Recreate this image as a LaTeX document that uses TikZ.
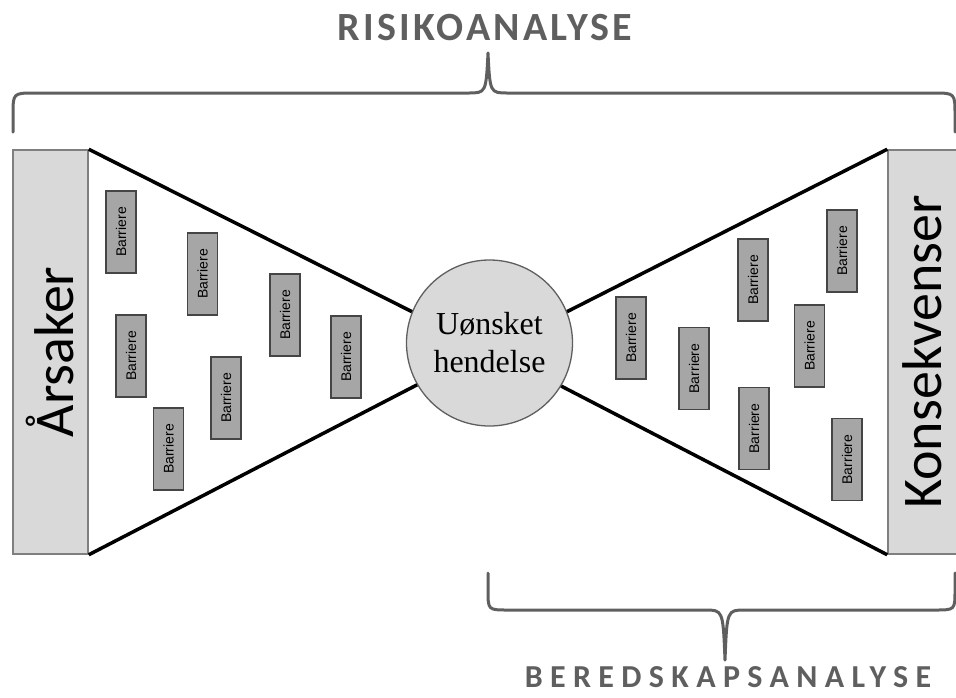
\documentclass[tikz,border=0pt]{standalone}
\usepackage{fontspec}
\setmainfont{Liberation Serif}
\newfontfamily\sidefont{Carlito}
\newfontfamily\topheadfont{Carlito}[LetterSpace=8]
\newfontfamily\botheadfont{Carlito}[LetterSpace=23]
\newfontfamily\boxfont{Liberation Sans}

\definecolor{barfill}{HTML}{D9D9D9}
\definecolor{barline}{HTML}{7F7F7F}
\definecolor{boxfill}{HTML}{A6A6A6}
\definecolor{boxline}{HTML}{454545}
\definecolor{bracegray}{HTML}{5F5F5F}

\tikzset{
  sidebar/.style={draw=barline, fill=barfill, line width=1.5pt, inner sep=0pt,
    minimum width=75pt, minimum height=404pt},
  sidelabel/.style={inner sep=0pt, rotate=90,
    font=\sidefont\fontsize{56}{60}\selectfont},
  barrier/.style={draw=boxline, fill=boxfill, line width=1.3pt, inner sep=0pt,
    minimum width=30pt, minimum height=82pt,
    font=\boxfont\fontsize{14}{16}\selectfont},
  event/.style={circle, draw=bracegray, fill=barfill, line width=1.3pt, inner sep=0pt,
    minimum size=166pt, align=center,
    font=\fontsize{32}{38}\selectfont},
  tie/.style={line width=3.5pt, black},
  bracket/.style={draw=bracegray, line width=3pt, line cap=round, line join=round},
  heading/.style={text=bracegray, inner sep=0pt}
}

\begin{document}
\begin{tikzpicture}[x=1pt, y=-1pt]
  \useasboundingbox (0,0) rectangle (956,697);
  \clip (0,0) rectangle (956,697);

  % causes and consequences
  \node[sidebar] (cause) at (50.5,352) {};
  \node[sidelabel] (causelabel) at (cause.center) {Årsaker};
  \node[sidebar] (conseq) at (925.5,352) {};
  \node[sidelabel] (conseqlabel) at (922,352) {Konsekvenser};

  % the top event
  \node[event] (ev) at (489.5,343) {Uønsket\\hendelse};

  % bow-tie edges
  \draw[tie] (cause.north east) -- (ev.158);
  \draw[tie] (cause.south east) -- (ev.210);
  \draw[tie] (conseq.north west) -- (ev.22);
  \draw[tie] (conseq.south west) -- (ev.-31);

  % barriers on the cause side
  \node[barrier] (b1) at (121,232)   {\rotatebox{90}{Barriere}};
  \node[barrier] (b2) at (202.5,274) {\rotatebox{90}{Barriere}};
  \node[barrier] (b3) at (285,315)   {\rotatebox{90}{Barriere}};
  \node[barrier] (b4) at (131,356)   {\rotatebox{90}{Barriere}};
  \node[barrier] (b5) at (226,398)   {\rotatebox{90}{Barriere}};
  \node[barrier] (b6) at (168.5,449) {\rotatebox{90}{Barriere}};
  \node[barrier] (b7) at (346,357)   {\rotatebox{90}{Barriere}};

  % barriers on the consequence side
  \node[barrier] (r1) at (631,338)   {\rotatebox{90}{Barriere}};
  \node[barrier] (r2) at (694,368.5) {\rotatebox{90}{Barriere}};
  \node[barrier] (r3) at (753,280)   {\rotatebox{90}{Barriere}};
  \node[barrier] (r4) at (754,428.5) {\rotatebox{90}{Barriere}};
  \node[barrier] (r5) at (809.5,346) {\rotatebox{90}{Barriere}};
  \node[barrier] (r6) at (842,251)   {\rotatebox{90}{Barriere}};
  \node[barrier] (r7) at (847,459.5) {\rotatebox{90}{Barriere}};

  % upper brace
  \coordinate (tl) at (13,132);
  \coordinate (tt) at (488,53);
  \coordinate (tr) at (955,132);
  \draw[bracket] (tl) -- (13,115) .. controls (13,93) .. (35,93)
    -- (468,93) .. controls (486,93) .. (tt)
    .. controls (490,93) .. (508,93)
    -- (933,93) .. controls (955,93) .. (955,115) -- (tr);
  \node[heading, font=\topheadfont\bfseries\fontsize{40}{44}\selectfont] (riskhead) at (485,28) {RISIKOANALYSE};

  % lower brace
  \coordinate (bl) at (488,573);
  \coordinate (bt) at (725,660);
  \coordinate (br) at (955,573);
  \draw[bracket] (bl) -- (488,590) .. controls (488,610) .. (508,610)
    -- (705,610) .. controls (723,610) .. (bt)
    .. controls (727,610) .. (745,610)
    -- (935,610) .. controls (955,610) .. (955,590) -- (br);
  \node[heading, font=\botheadfont\bfseries\fontsize{32}{36}\selectfont] (prephead) at (728,677) {BEREDSKAPSANALYSE};
\end{tikzpicture}
\end{document}
